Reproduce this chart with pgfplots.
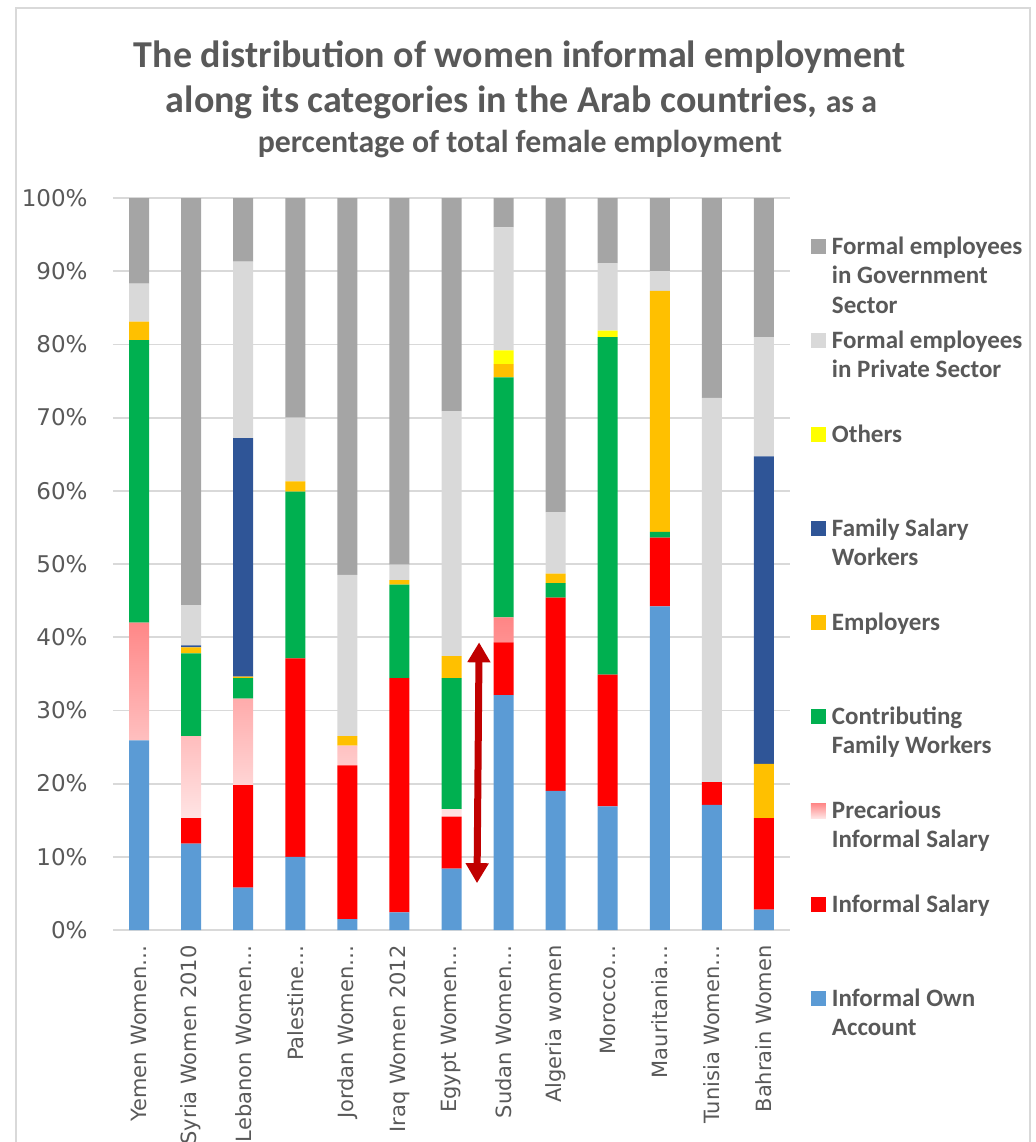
\documentclass[border=0pt]{standalone}
\usepackage{fontspec}
\setmainfont{Carlito}
\newfontfamily\dejavu{DejaVu Sans}
\usepackage{pgfplots}
\pgfplotsset{compat=1.18}
\usepackage{pgfplotstable}
\usetikzlibrary{arrows.meta}
\definecolor{txt}{HTML}{595959}
\definecolor{ownblue}{HTML}{5B9BD5}
\definecolor{salred}{HTML}{FF0000}
\definecolor{preclo}{HTML}{FFE4E4}
\definecolor{prechi}{HTML}{FF8585}
\definecolor{cfwgreen}{HTML}{00B050}
\definecolor{empor}{HTML}{FFC000}
\definecolor{famblue}{HTML}{2F5597}
\definecolor{othyel}{HTML}{FFFF00}
\definecolor{privgray}{HTML}{D9D9D9}
\definecolor{govgray}{HTML}{A5A5A5}
\definecolor{gridgray}{HTML}{D9D9D9}
\definecolor{arrowred}{HTML}{C00000}

\pgfplotstableread{
x own sal prec cfw emp fam oth priv gov
0 25.9 0 16.1 38.6 2.5 0 0 5.2 11.7
1 11.8 3.5 11.2 11.3 0.8 0.3 0 5.5 55.6
2 5.8 14.0 11.8 2.8 0.2 32.6 0 24.1 8.7
3 10.0 27.1 0 22.8 1.4 0 0 8.7 30.0
4 1.5 21.0 2.7 0 1.3 0 0 22.0 51.5
5 2.4 32.0 0 12.8 0.6 0 0 2.1 50.1
6 8.4 7.1 1.0 17.9 3.0 0 0 33.5 29.1
7 32.1 7.2 3.4 32.8 1.8 0 1.9 16.8 4.0
8 19.0 26.4 0 2.0 1.3 0 0 8.4 42.9
9 16.9 18.0 0 46.1 0 0 0.9 9.2 8.9
10 44.2 9.4 0 0.8 32.9 0 0 2.7 10.0
11 17.1 3.1 0 0 0 0 0 52.5 27.3
12 2.8 12.5 0 0 7.4 42.0 0 16.3 19.0
}\datatable

\newcommand{\lgd}[1]{\rule{0pt}{9pt}\smash{\parbox[t]{110pt}{\raggedright #1}}}

\begin{document}
\begin{tikzpicture}
\path[use as bounding box] (0,0) rectangle (518pt,-571pt);
\draw[color=gridgray, line width=1pt] (8pt,-4pt) rectangle (515pt,-600pt);
\node[anchor=base, text=txt, font=\bfseries\fontsize{19}{22}\selectfont, inner sep=0pt] at (260pt,-33.5pt)
 {The distribution of women informal employment};
\node[anchor=base, text=txt, font=\bfseries\fontsize{19}{22}\selectfont, inner sep=0pt] at (260.75pt,-56pt)
 {along its categories in the Arab countries, {\fontsize{15.9}{22}\selectfont as a}};
\node[anchor=base, text=txt, font=\bfseries\fontsize{15.9}{22}\selectfont, inner sep=0pt] at (260pt,-76pt)
 {percentage of total female employment};
\begin{axis}[
  at={(56.5pt,-465pt)}, anchor=south west,
  scale only axis, width=338.5pt, height=366pt,
  ybar stacked, bar width=10pt,
  xmin=-0.5, xmax=12.5, ymin=0, ymax=100,
  xtick={0,...,12},
  xticklabels={Yemen Women…,Syria Women 2010,Lebanon Women…,Palestine…,Jordan Women…,Iraq Women 2012,Egypt Women…,Sudan Women…,Algeria women,Morocco…,Mauritania…,Tunisia Women…,Bahrain Women},
  ytick={0,10,...,100},
  yticklabels={0\%,10\%,20\%,30\%,40\%,50\%,60\%,70\%,80\%,90\%,100\%},
  ymajorgrids, grid style={color=gridgray, line width=0.9pt},
  axis line style={draw=none}, tick style={draw=none}, major tick length=0pt,
  xticklabel style={rotate=90, anchor=east, font=\dejavu\fontsize{10.5}{12.5}\selectfont, text=txt, inner sep=0pt},
  xticklabel shift=7.5pt,
  yticklabel style={font=\dejavu\fontsize{11.5}{13}\selectfont, text=txt, inner sep=0pt},
  yticklabel shift=12.5pt,
  reverse legend,
  legend style={at={(axis description cs:1.031,0.948)}, anchor=north west, draw=none, fill=none,
    inner sep=0pt, outer sep=0pt, row sep=36.5pt, column sep=3pt,
    font=\bfseries\fontsize{12.5}{14.75}\selectfont, text=txt,
    nodes={inner sep=0pt}, cells={anchor=base west}},
  sq/.style={draw=none, legend image code/.code={\path[##1, draw=none] (0pt,0pt) rectangle (7.5pt,7.5pt);}},
]
\addplot[sq, fill=ownblue] table[x=x,y=own]{\datatable};
\addlegendentry{\lgd{Informal Own\\Account}}
\addplot[sq, fill=salred] table[x=x,y=sal]{\datatable};
\addlegendentry{\lgd{Informal Salary}}
\addplot[sq, top color=prechi, bottom color=preclo] table[x=x,y=prec]{\datatable};
\addlegendentry{\lgd{Precarious\\Informal Salary}}
\addplot[sq, fill=cfwgreen] table[x=x,y=cfw]{\datatable};
\addlegendentry{\lgd{Contributing\\Family Workers}}
\addplot[sq, fill=empor] table[x=x,y=emp]{\datatable};
\addlegendentry{\lgd{Employers}}
\addplot[sq, fill=famblue] table[x=x,y=fam]{\datatable};
\addlegendentry{\lgd{Family Salary\\Workers}}
\addplot[sq, fill=othyel] table[x=x,y=oth]{\datatable};
\addlegendentry{\lgd{Others}}
\addplot[sq, fill=privgray] table[x=x,y=priv]{\datatable};
\addlegendentry{\lgd{Formal employees\\in Private Sector}}
\addplot[sq, fill=govgray] table[x=x,y=gov]{\datatable};
\addlegendentry{\lgd{Formal employees\\in Government\\Sector}}
\draw[arrowred, line width=3.5pt, {Triangle[width=11pt,length=10pt]}-{Triangle[width=11pt,length=10pt]}]
  (axis cs:6.49,6.4) -- (axis cs:6.53,39.3);
\end{axis}
\end{tikzpicture}
\end{document}
